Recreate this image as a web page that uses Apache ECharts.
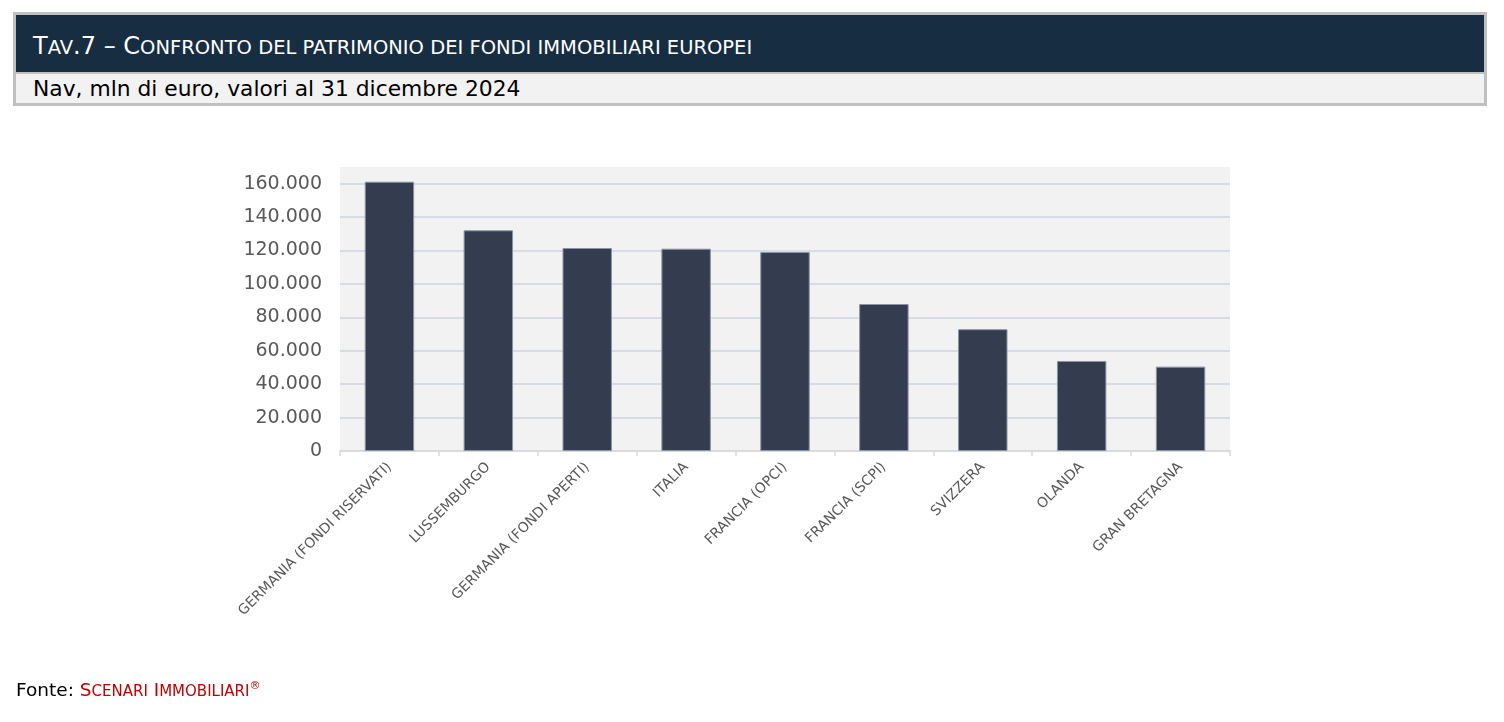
<!DOCTYPE html>
<html>
<head>
<meta charset="utf-8">
<script src="https://cdn.jsdelivr.net/npm/echarts@6/dist/echarts.min.js"></script>
<style>
  html, body { margin:0; padding:0; background:#fff; width:1504px; height:722px; overflow:hidden; }
  #chart { position:absolute; left:0; top:0; width:1504px; height:722px; }
  #hdr { position:absolute; left:13px; top:12px; width:1468px; height:88px; border:3px solid #c0c0c0; background:#f2f2f2; font-family:"DejaVu Sans",sans-serif; }
  #hdr .t { height:59px; background:#172d42; color:#fff; border-bottom:2px solid #c0c0c0; box-sizing:border-box; padding-left:17px; line-height:62px; font-size:24px; white-space:nowrap; }
  #hdr .t .sc { font-size:19.5px; }
  #hdr .s { height:29px; line-height:29px; padding-left:17px; font-size:21.8px; color:#000; white-space:nowrap; }
  #ftr { position:absolute; left:16px; top:679px; font-family:"DejaVu Sans",sans-serif; font-size:18.5px; color:#000; white-space:nowrap; }
  #ftr .r { color:#c00000; }
  #ftr .sc { font-size:15px; }
  #ftr sup { font-size:11px; }
</style>
</head>
<body>
<div id="chart"></div>
<div id="hdr">
  <div class="t">T<span class="sc">AV</span>.7 – C<span class="sc">ONFRONTO DEL PATRIMONIO DEI FONDI IMMOBILIARI EUROPEI</span></div>
  <div class="s">Nav, mln di euro, valori al 31 dicembre 2024</div>
</div>
<div id="ftr">Fonte: <span class="r">S<span class="sc">CENARI</span> I<span class="sc">MMOBILIARI</span><sup>®</sup></span></div>
<script>
const categories = ["GERMANIA (FONDI RISERVATI)", "LUSSEMBURGO", "GERMANIA (FONDI APERTI)", "ITALIA", "FRANCIA (OPCI)", "FRANCIA (SCPI)", "SVIZZERA", "OLANDA", "GRAN BRETAGNA"];
const navValues = [161200, 132100, 121500, 121100, 119100, 88000, 72900, 53900, 50500];

function fmt(v) {
  return String(v).replace(/\B(?=(\d{3})+(?!\d))/g, ".");
}

const chart = echarts.init(document.getElementById('chart'));
chart.setOption({
  animation: false,
  grid: { left: 340, right: 274, top: 167, bottom: 271, show: true, backgroundColor: '#f2f2f2', borderWidth: 0 },
  xAxis: {
    type: 'category',
    data: categories,
    axisLine: { lineStyle: { color: '#d9d9d9', width: 1.5 } },
    axisTick: { show: true, length: 5, lineStyle: { color: '#d9d9d9', width: 1.5 } },
    axisLabel: { rotate: 45, interval: 0, color: '#595959', fontSize: 14, fontFamily: 'DejaVu Sans, sans-serif', margin: 14 }
  },
  yAxis: {
    type: 'value',
    min: 0, max: 170000, interval: 20000,
    axisLine: { show: false },
    axisTick: { show: false },
    axisLabel: { color: '#595959', fontSize: 19, fontFamily: 'DejaVu Sans, sans-serif', margin: 18, showMaxLabel: false, formatter: v => fmt(v) },
    splitLine: { show: true, showMaxLine: false, lineStyle: { color: '#d6dce5', width: 2 } }
  },
  series: [{
    type: 'bar',
    data: navValues,
    barWidth: '50%',
    itemStyle: { color: '#333d4f', borderColor: '#8a94a3', borderWidth: 1 }
  }]
});
</script>
</body>
</html>
